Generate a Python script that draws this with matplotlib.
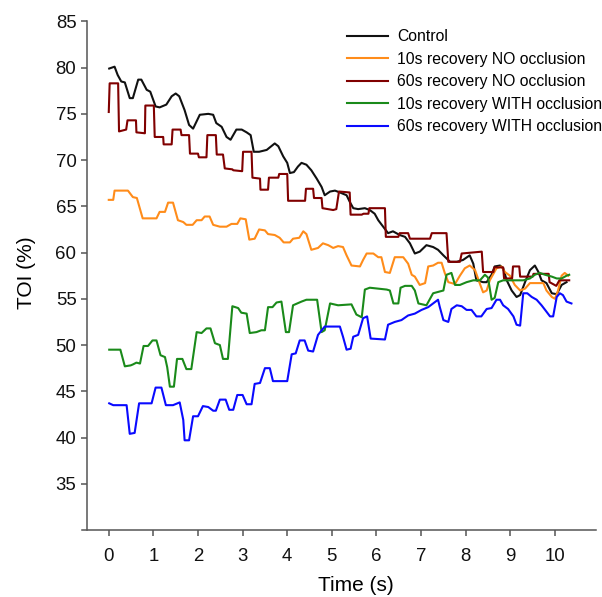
import matplotlib
matplotlib.use("Agg")
import matplotlib.pyplot as plt

plt.rcParams['font.family'] = ['Liberation Sans', 'DejaVu Sans']

# Control
t_ctrl = [0.01, 0.13, 0.20, 0.28, 0.36, 0.47, 0.54, 0.66, 0.73, 0.85, 0.93, 1.05, 1.14, 1.29,
          1.41, 1.50, 1.58, 1.70, 1.80, 1.89, 2.04, 2.23, 2.34, 2.41, 2.53, 2.64, 2.73, 2.86,
          2.98, 3.09, 3.18, 3.25, 3.37, 3.54, 3.72, 3.80, 3.91, 4.00, 4.06, 4.15, 4.24, 4.32,
          4.43, 4.54, 4.66, 4.77, 4.84, 4.96, 5.07, 5.18, 5.33, 5.40, 5.48, 5.59, 5.74, 5.85,
          5.96, 6.04, 6.15, 6.26, 6.37, 6.52, 6.64, 6.75, 6.86, 6.97, 7.12, 7.27, 7.38, 7.50,
          7.65, 7.80, 7.94, 8.09, 8.17, 8.24, 8.39, 8.47, 8.58, 8.65, 8.77, 8.84, 8.92, 9.03,
          9.14, 9.22, 9.33, 9.44, 9.55, 9.63, 9.70, 9.81, 9.93, 10.04, 10.15, 10.26]
y_ctrl = [79.9, 80.1, 79.2, 78.5, 78.4, 76.7, 76.7, 78.7, 78.7, 77.6, 77.4, 75.8, 75.7, 76.0,
          76.9, 77.2, 76.9, 75.4, 73.8, 73.4, 74.9, 75.0, 74.9, 74.0, 73.6, 72.5, 72.2, 73.3,
          73.3, 73.0, 72.7, 70.9, 70.9, 71.1, 71.8, 71.5, 70.4, 69.7, 68.6, 68.7, 69.3, 69.7,
          69.5, 68.9, 68.0, 67.1, 66.2, 66.6, 66.7, 66.5, 66.2, 65.5, 64.8, 64.7, 64.8, 64.6,
          64.2, 63.5, 62.8, 62.1, 62.3, 61.9, 61.7, 61.0, 59.9, 60.1, 60.8, 60.6, 60.3, 59.7,
          59.0, 59.0, 59.2, 59.7, 58.8, 57.0, 56.8, 56.8, 57.6, 58.5, 58.6, 58.3, 57.0, 55.9,
          55.2, 55.4, 56.8, 58.1, 58.6, 57.9, 57.0, 56.7, 55.6, 55.5, 56.5, 56.8]

# 10s recovery NO occlusion
t_10no = [0.00, 0.10, 0.13, 0.43, 0.54, 0.63, 0.76, 1.07, 1.14, 1.26, 1.33, 1.44, 1.55, 1.67,
          1.74, 1.88, 1.97, 2.08, 2.15, 2.26, 2.34, 2.49, 2.64, 2.75, 2.88, 2.95, 3.07, 3.15,
          3.27, 3.37, 3.50, 3.57, 3.72, 3.83, 3.92, 4.06, 4.13, 4.27, 4.36, 4.43, 4.54, 4.69,
          4.80, 4.92, 5.03, 5.14, 5.25, 5.33, 5.44, 5.63, 5.70, 5.78, 5.93, 6.04, 6.11, 6.19,
          6.30, 6.41, 6.60, 6.71, 6.79, 6.86, 6.97, 7.09, 7.16, 7.27, 7.38, 7.46, 7.53, 7.61,
          7.76, 7.87, 7.98, 8.09, 8.21, 8.32, 8.39, 8.47, 8.54, 8.69, 8.80, 8.88, 8.99, 9.10,
          9.22, 9.33, 9.44, 9.63, 9.74, 9.81, 9.93, 10.00, 10.07, 10.15, 10.22, 10.30]
y_10no = [65.7, 65.7, 66.7, 66.7, 66.0, 65.9, 63.7, 63.7, 64.4, 64.4, 65.4, 65.4, 63.5, 63.3,
          63.0, 63.0, 63.5, 63.5, 63.9, 63.9, 63.0, 62.8, 62.8, 63.1, 63.1, 63.7, 63.6, 61.4,
          61.5, 62.5, 62.4, 62.0, 61.9, 61.6, 61.1, 61.1, 61.5, 61.6, 62.3, 62.0, 60.3, 60.5,
          61.0, 60.8, 60.5, 60.7, 60.6, 59.7, 58.6, 58.5, 59.2, 59.9, 59.9, 59.5, 59.5, 57.9,
          57.8, 59.5, 59.5, 58.8, 57.6, 57.4, 56.5, 56.7, 58.5, 58.6, 58.9, 58.9, 57.8, 56.8,
          56.6, 57.5, 58.3, 58.6, 58.1, 56.6, 55.7, 55.9, 57.0, 58.3, 58.5, 57.9, 57.5, 56.5,
          55.9, 56.1, 56.7, 56.7, 56.7, 55.9, 55.2, 55.0, 55.9, 57.5, 57.8, 57.5]

# 60s recovery NO occlusion
t_60no = [0.00, 0.02, 0.21, 0.23, 0.39, 0.42, 0.61, 0.62, 0.81, 0.82, 1.01, 1.03, 1.22, 1.23,
          1.41, 1.43, 1.61, 1.63, 1.80, 1.82, 2.00, 2.02, 2.19, 2.21, 2.40, 2.42, 2.56, 2.60,
          2.77, 2.79, 2.99, 3.01, 3.20, 3.22, 3.39, 3.40, 3.57, 3.59, 3.80, 3.82, 4.00, 4.02,
          4.40, 4.42, 4.58, 4.60, 4.77, 4.79, 5.03, 5.10, 5.16, 5.40, 5.42, 5.67, 5.71, 5.82,
          5.84, 6.19, 6.21, 6.49, 6.52, 6.71, 6.75, 7.20, 7.24, 7.57, 7.61, 7.87, 7.91, 8.36,
          8.39, 8.62, 8.64, 8.84, 8.86, 9.04, 9.06, 9.20, 9.22, 9.50, 9.52, 9.86, 9.88, 10.03,
          10.10, 10.32]
y_60no = [75.2, 78.3, 78.3, 73.1, 73.3, 74.3, 74.3, 73.0, 72.9, 75.9, 75.9, 72.5, 72.5, 71.7,
          71.7, 73.3, 73.3, 72.7, 72.7, 70.7, 70.7, 70.3, 70.3, 72.7, 72.7, 70.6, 70.6, 69.1,
          69.0, 68.9, 68.8, 70.9, 70.9, 68.1, 68.0, 66.8, 66.8, 68.1, 68.1, 68.5, 68.5, 65.6,
          65.6, 66.9, 66.9, 65.9, 65.9, 64.8, 64.6, 64.7, 66.6, 66.5, 64.1, 64.1, 64.2, 64.2,
          64.8, 64.8, 61.7, 61.7, 62.1, 62.1, 61.5, 61.5, 62.1, 62.1, 59.0, 59.0, 59.9, 60.1,
          57.9, 57.9, 58.4, 58.4, 57.2, 57.2, 58.5, 58.5, 57.4, 57.4, 57.7, 57.7, 56.8, 56.4,
          57.0, 57.0]

# 10s recovery WITH occlusion
t_10with = [0.01, 0.26, 0.36, 0.49, 0.54, 0.62, 0.70, 0.78, 0.88, 0.98, 1.07, 1.16, 1.26, 1.31,
            1.37, 1.46, 1.53, 1.65, 1.74, 1.85, 1.97, 2.08, 2.19, 2.28, 2.38, 2.49, 2.56, 2.67,
            2.77, 2.90, 2.97, 3.09, 3.16, 3.31, 3.42, 3.50, 3.57, 3.67, 3.76, 3.87, 3.97, 4.04,
            4.13, 4.32, 4.43, 4.67, 4.77, 4.84, 4.96, 5.14, 5.44, 5.55, 5.67, 5.74, 5.85, 6.23,
            6.30, 6.38, 6.49, 6.54, 6.64, 6.79, 6.86, 6.94, 7.12, 7.27, 7.50, 7.57, 7.68, 7.76,
            7.87, 8.02, 8.17, 8.32, 8.43, 8.50, 8.58, 8.65, 8.73, 8.84, 9.29, 9.44, 9.55, 9.66,
            9.78, 9.93, 10.04, 10.15, 10.26, 10.32]
y_10with = [49.5, 49.5, 47.7, 47.8, 47.9, 48.1, 48.0, 49.9, 49.9, 50.5, 50.5, 48.9, 48.7, 47.6,
            45.5, 45.5, 48.5, 48.5, 47.4, 47.4, 51.4, 51.3, 51.8, 51.8, 50.2, 50.0, 48.5, 48.5,
            54.2, 54.0, 53.5, 53.4, 51.3, 51.4, 51.6, 51.6, 54.1, 54.1, 54.6, 54.7, 51.4, 51.4,
            54.3, 54.7, 54.9, 54.9, 51.4, 51.6, 54.5, 54.3, 54.4, 53.3, 53.0, 56.0, 56.2, 56.0,
            55.9, 54.5, 54.5, 56.2, 56.4, 56.4, 55.9, 54.5, 54.3, 55.6, 55.9, 57.6, 57.8, 56.5,
            56.5, 56.8, 57.0, 57.0, 57.6, 57.3, 54.9, 55.1, 56.8, 57.0, 57.0, 57.2, 57.6, 57.8,
            57.6, 57.4, 57.2, 57.2, 57.5, 57.6]

# 60s recovery WITH occlusion
t_60with = [0.01, 0.10, 0.40, 0.47, 0.58, 0.68, 0.96, 1.05, 1.18, 1.28, 1.44, 1.59, 1.67, 1.70,
            1.80, 1.89, 2.00, 2.11, 2.23, 2.34, 2.40, 2.49, 2.62, 2.70, 2.79, 2.88, 3.00, 3.09,
            3.20, 3.27, 3.39, 3.50, 3.61, 3.68, 4.00, 4.10, 4.19, 4.28, 4.39, 4.47, 4.58, 4.69,
            4.84, 5.18, 5.25, 5.33, 5.42, 5.48, 5.59, 5.70, 5.79, 5.87, 6.19, 6.26, 6.41, 6.56,
            6.71, 6.86, 7.01, 7.16, 7.27, 7.38, 7.42, 7.50, 7.61, 7.68, 7.80, 7.91, 8.02, 8.13,
            8.24, 8.35, 8.47, 8.58, 8.69, 8.77, 8.84, 8.95, 9.07, 9.14, 9.22, 9.29, 9.38, 9.48,
            9.59, 9.70, 9.78, 9.89, 9.96, 10.04, 10.11, 10.18, 10.26, 10.37]
y_60with = [43.7, 43.5, 43.5, 40.4, 40.5, 43.7, 43.7, 45.4, 45.4, 43.5, 43.5, 43.8, 41.9, 39.7,
            39.7, 42.3, 42.3, 43.4, 43.3, 42.9, 42.9, 44.1, 44.1, 43.0, 43.0, 44.6, 44.6, 43.6,
            43.6, 45.8, 45.9, 47.5, 47.5, 46.1, 46.1, 49.0, 49.1, 50.5, 50.5, 49.4, 49.3, 51.1,
            52.0, 52.0, 50.9, 49.5, 49.6, 50.9, 51.1, 52.9, 53.1, 50.7, 50.6, 52.2, 52.5, 52.7,
            53.2, 53.4, 53.8, 54.1, 54.5, 54.9, 54.1, 52.7, 52.5, 53.9, 54.3, 54.2, 53.8, 53.8,
            53.1, 53.1, 53.9, 54.0, 54.9, 54.9, 54.3, 53.9, 53.1, 52.2, 52.1, 55.6, 55.6, 55.2,
            54.9, 54.3, 53.8, 53.1, 53.1, 55.2, 55.6, 55.4, 54.7, 54.5]

labels = ['Control', '10s recovery NO occlusion', '60s recovery NO occlusion',
          '10s recovery WITH occlusion', '60s recovery WITH occlusion']
colors = ['#111111', '#ff8c1a', '#800000', '#1a8a1a', '#0a0aff']
x_ticks = list(range(0, 11))
y_ticks = list(range(35, 90, 5))

fig = plt.figure(figsize=(6.02, 5.97), dpi=100)
ax = fig.add_axes([0.1362, 0.1122, 0.8538, 0.852])

series = [(t_ctrl, y_ctrl), (t_10no, y_10no), (t_60no, y_60no),
          (t_10with, y_10with), (t_60with, y_60with)]
for (t, y), lab, c in zip(series, labels, colors):
    ax.plot(t, y, color=c, lw=1.5, label=lab, solid_joinstyle='round')

ax.set_xlim(-0.6, 10.92)
ax.set_ylim(30, 85)
ax.set_xticks(x_ticks)
ax.set_yticks(y_ticks)

for s in ['top', 'right']:
    ax.spines[s].set_visible(False)
ax.spines['left'].set_position(('data', -0.49))
for s in ['left', 'bottom']:
    ax.spines[s].set_color('#555555')
    ax.spines[s].set_linewidth(1.1)
ax.tick_params(colors='#555555', labelcolor='#111111', length=4, width=1.1,
               labelsize=13.4)
ax.tick_params(axis='x', pad=9)

ax.set_xlabel('Time (s)', fontsize=15)
ax.set_ylabel('TOI (%)', fontsize=15)
ax.xaxis.set_label_coords(0.533, -0.091)
ax.yaxis.set_label_coords(-0.09, 0.505)

ax.legend(loc='upper left', bbox_to_anchor=(347 / 602, 1 - 29 / 597),
          bbox_transform=fig.transFigure, frameon=False, fontsize=11.3,
          handlelength=2.6, handletextpad=0.57, labelspacing=0.48,
          borderpad=0, borderaxespad=0)

fig.savefig('out.png', dpi=100)
